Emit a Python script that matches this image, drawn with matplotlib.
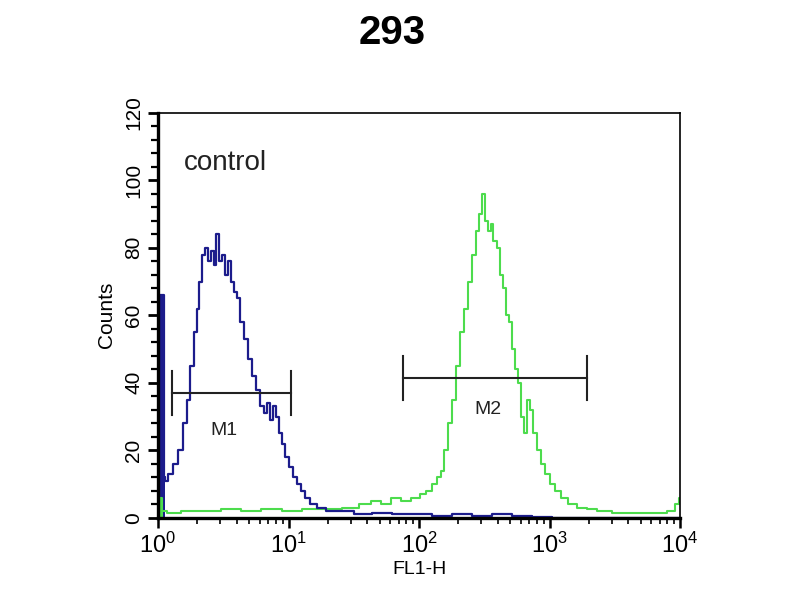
import numpy as np
import matplotlib
matplotlib.use('Agg')
import matplotlib.pyplot as plt
from matplotlib.ticker import MultipleLocator, LogLocator

plt.rcParams['font.family'] = ['Liberation Sans', 'DejaVu Sans']

# 蓝色：control 的直方图（log10(FL1-H), 计数）
blue_log = [0.0, 0.015, 0.035, 0.05, 0.062, 0.092, 0.131, 0.169, 0.208, 0.231, 0.262,
            0.285, 0.308, 0.323, 0.346, 0.369, 0.392, 0.415, 0.438, 0.454, 0.477,
            0.5, 0.523, 0.546, 0.569, 0.592, 0.615, 0.646, 0.677, 0.708, 0.738,
            0.769, 0.8, 0.823, 0.846, 0.869, 0.892, 0.915, 0.938, 0.962, 0.985,
            1.015, 1.046, 1.077, 1.108, 1.138, 1.185, 1.246, 1.323, 1.438, 1.554,
            1.708, 1.862, 2.015, 2.169, 2.323, 2.477, 2.631, 2.785, 2.938, 3.092, 4.0]
blue_cnt = [66, 66, 66, 12, 11, 13, 16, 20, 28, 35, 45,
            55, 62, 70, 78, 80, 76, 79, 75, 84, 76,
            78, 72, 76, 70, 67, 65, 58, 53, 47, 42,
            38, 33, 31, 34, 29, 33, 30, 25, 22, 18,
            15, 12, 10, 8, 6, 4, 3, 2, 2, 1,
            1.5, 1, 1, 0.5, 1, 0.5, 1, 0.5, 0.3, 0, 0]

# 绿色：293 样本
green_log = [0.0, 0.015, 0.04, 0.09, 0.25, 0.4, 0.55, 0.71, 0.86, 1.02,
             1.17, 1.32, 1.48, 1.59, 1.67, 1.75, 1.82, 1.9, 1.98, 2.03,
             2.08, 2.12, 2.15, 2.18, 2.21, 2.24, 2.27, 2.3, 2.33, 2.36,
             2.39, 2.42, 2.45, 2.47, 2.49, 2.52, 2.54, 2.56, 2.58, 2.61,
             2.63, 2.65, 2.68, 2.7, 2.72, 2.75, 2.77, 2.79, 2.82, 2.84,
             2.86, 2.88, 2.92, 2.95, 2.98, 3.02, 3.06, 3.11, 3.17, 3.25,
             3.32, 3.4, 3.55, 3.71, 3.86, 3.94, 3.98, 4.0]
green_cnt = [8, 6, 2, 1.5, 2, 2, 2.5, 2, 2.5, 2,
             2.5, 2.5, 3, 4, 5, 4, 6, 5, 6, 7,
             8, 10, 12, 14, 20, 28, 35, 45, 55, 62,
             70, 78, 85, 90, 96, 88, 85, 87, 82, 80,
             72, 68, 60, 58, 50, 44, 40, 30, 25, 35,
             32, 25, 20, 16, 13, 10, 8, 6, 4, 3,
             2.5, 2, 1.5, 1.5, 1.5, 2, 4, 6]

# 标记区间 M1, M2 (FL1-H 范围, 高度)
m1 = (1.28, 10.4, 37)
m2 = (75, 1930, 41.5)

blue = '#1c1c8c'
green = '#4ddc4d'

fig = plt.figure(figsize=(8, 6), dpi=100)
ax = fig.add_axes([0.1975, 0.137, 0.6525, 0.675])

bx = 10 ** np.array(blue_log)
gx = 10 ** np.array(green_log)
# 左边那根粗的蓝色柱子和绿色小峰
ax.fill_between(bx[:4], blue_cnt[:4], step='mid', color=blue, lw=0)
ax.fill_between(gx[:3], green_cnt[:3], step='mid', color=green, lw=0)
ax.plot(gx, green_cnt, color=green, lw=1.5, drawstyle='steps-mid')
ax.plot(bx, blue_cnt, color=blue, lw=1.6, drawstyle='steps-mid')

for lo, hi, h in [m1, m2]:
    ax.plot([lo, hi], [h, h], color='#222222', lw=1.5)
    ax.plot([lo, lo], [h - 6.5, h + 6.5], color='#222222', lw=1.5)
    ax.plot([hi, hi], [h - 6.5, h + 6.5], color='#222222', lw=1.5)
ax.text(3.2, 26, 'M1', fontsize=14, ha='center', va='center', color='#222222')
ax.text(340, 32, 'M2', fontsize=14, ha='center', va='center', color='#222222')
ax.text(1.58, 105, 'control', fontsize=20, ha='left', va='center', color='#222222')

ax.set_xscale('log')
ax.set_xlim(1, 1e4)
ax.set_ylim(0, 120)
ax.yaxis.set_major_locator(MultipleLocator(20))
ax.yaxis.set_minor_locator(MultipleLocator(4))
ax.xaxis.set_major_locator(LogLocator(base=10))
ax.xaxis.set_minor_locator(LogLocator(base=10, subs=np.arange(2, 10)))

ax.tick_params(axis='y', which='major', length=7, width=2, labelsize=15, labelrotation=90)
ax.tick_params(axis='y', which='minor', length=5, width=1.6)
ax.tick_params(axis='x', which='major', length=7, width=1.8, labelsize=17, pad=4)
ax.tick_params(axis='x', which='minor', length=4, width=1.2)
for lab in ax.get_yticklabels():
    lab.set_va('center')

ax.spines['left'].set_linewidth(2.4)
ax.spines['bottom'].set_linewidth(2.4)
ax.spines['top'].set_linewidth(1.2)
ax.spines['right'].set_linewidth(1.2)

ax.set_ylabel('Counts', fontsize=15, labelpad=6)
ax.set_xlabel('FL1-H', fontsize=14, labelpad=2)
fig.text(0.49, 0.945, '293', fontsize=29, fontweight='bold', ha='center', va='center')

fig.savefig('out.png', dpi=100)
